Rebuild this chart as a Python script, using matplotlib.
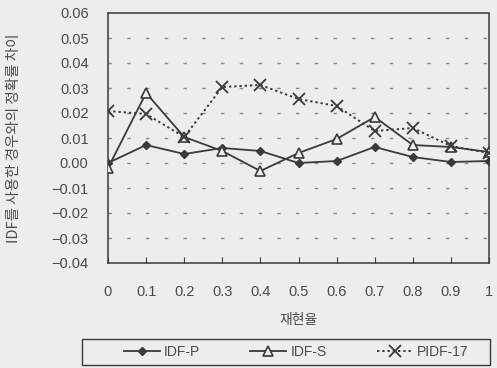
import numpy as np
import matplotlib
matplotlib.use("Agg")
import matplotlib.pyplot as plt
from matplotlib.patches import Rectangle

plt.rcParams['font.family'] = ['Liberation Sans', 'Noto Sans CJK KR', 'DejaVu Sans']

# recall levels and precision differences
recall = [0, 0.1, 0.2, 0.3, 0.4, 0.5, 0.6, 0.7, 0.8, 0.9, 1.0]
recall_labels = ['0', '0.1', '0.2', '0.3', '0.4', '0.5', '0.6', '0.7', '0.8', '0.9', '1']
idf_p = [0.000, 0.0072, 0.0036, 0.0060, 0.0048, 0.0000, 0.0008, 0.0064, 0.0024, 0.0004, 0.0008]
idf_s = [-0.002, 0.028, 0.0104, 0.0048, -0.0032, 0.0040, 0.0096, 0.0184, 0.0072, 0.0064, 0.0044]
pidf_17 = [0.0208, 0.0196, 0.0104, 0.0304, 0.0312, 0.0256, 0.0228, 0.0128, 0.0140, 0.0068, 0.0040]
yticks = [-0.04, -0.03, -0.02, -0.01, 0.00, 0.01, 0.02, 0.03, 0.04, 0.05, 0.06]

ink = '#3a3a3a'
txt = '#4a4a4a'
bg = '#ededed'

fig = plt.figure(figsize=(4.97, 3.68), dpi=100, facecolor=bg)
ax = fig.add_axes([108/497, 1 - 263/368, (489 - 108)/497, 250/368])
ax.set_facecolor(bg)

# dashed horizontal grid
for y in yticks[1:-1]:
    ax.axhline(y, color='#8a8a8a', lw=1.0, dashes=(2.5, 11), zorder=0)

l1, = ax.plot(recall, idf_p, color=ink, lw=1.3, marker='D', ms=4.5,
              mfc=ink, mec=ink, label='IDF-P', zorder=3)
l2, = ax.plot(recall, idf_s, color=ink, lw=1.3, marker='^', ms=7,
              mfc=bg, mec=ink, mew=1.2, label='IDF-S', zorder=3)
l3, = ax.plot(recall, pidf_17, color=ink, lw=1.4, ls=(0, (1.2, 1.5)), marker='x',
              ms=8, mew=1.3, mec=ink, label='PIDF-17', zorder=3)

ax.set_xlim(0, 1)
ax.set_ylim(-0.04, 0.06)
ax.set_xticks(recall)
ax.set_xticklabels(recall_labels)
ax.set_yticks(yticks)
ax.set_yticklabels(['%.2f' % v if v >= 0 else '\u2212%.2f' % abs(v) for v in yticks])
ax.tick_params(axis='x', direction='in', length=4, color=ink, pad=16,
               labelsize=10.5, labelcolor=txt)
ax.tick_params(axis='y', length=0, pad=14, labelsize=10.5, labelcolor=txt)
for s in ax.spines.values():
    s.set_color(ink)
    s.set_linewidth(1.1)
ax.spines['right'].set_linestyle((0, (1, 1)))

ax.set_xlabel('재현율', family=['Noto Sans CJK KR'], fontsize=10, color=txt, labelpad=10)
ax.set_ylabel('IDF를 사용한 경우와의 정확률 차이', family=['Noto Sans CJK KR'],
              fontsize=10.5, color=txt, labelpad=22)

leg = fig.legend(handles=[l1, l2, l3], loc='center', ncol=3,
                 bbox_to_anchor=(296/497, 1 - 352/368), frameon=False,
                 fontsize=10, handlelength=2.6, columnspacing=3.6,
                 handletextpad=0.3)
for t in leg.get_texts():
    t.set_color(txt)
fig.patches.append(Rectangle((82/497, 1 - 365/368), 408/497, 26/368,
                             transform=fig.transFigure, fill=False,
                             edgecolor=ink, lw=1.0))

fig.savefig('out.png', dpi=100, facecolor=bg)
